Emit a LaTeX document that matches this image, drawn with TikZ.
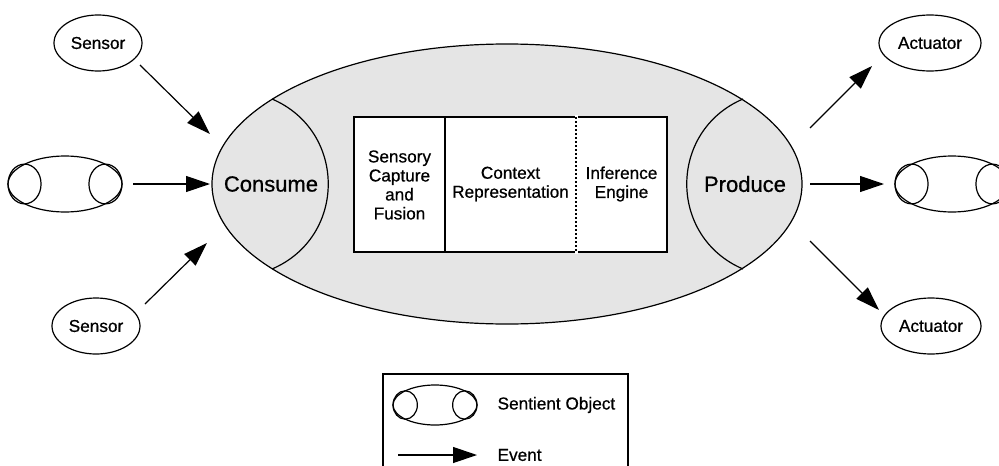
\documentclass[tikz,border=0pt]{standalone}
\usepackage{fontspec}
\setmainfont{Liberation Sans}[FakeBold=0.7]
\usetikzlibrary{arrows.meta,shapes.geometric}
\begin{document}
\begin{tikzpicture}[x=1pt,y=-1pt,
  line width=1.2pt,
  lbl/.style={font=\fontsize{17.2}{19}\selectfont, align=center, inner sep=0pt},
  biglbl/.style={font=\fontsize{22}{24}\selectfont, inner sep=0pt},
  event/.style={-{Triangle[length=24pt,width=16pt]}, line width=1.2pt},
  device/.style={draw, ellipse, fill=white}
]
\useasboundingbox (0,0) rectangle (999,466);
\clip (0,0) rectangle (999,466);

% sentient object: outer ellipse with two end lobes
\newcommand{\sentient}[4]{% centre x, centre y, half width, half height
  \draw[fill=white] (#1,#2) ellipse [x radius=#3, y radius=#4];
  \draw (#1-0.71*#3,#2) ellipse [x radius=0.29*#3, y radius=0.71*#4];
  \draw (#1+0.71*#3,#2) ellipse [x radius=0.29*#3, y radius=0.71*#4];
}

% central sentient object
\draw[fill=black!10] (507,184) ellipse [x radius=295, y radius=140];
\coordinate (c1) at (272,99);
\coordinate (c2) at (272,269);
\coordinate (p1) at (743,99);
\coordinate (p2) at (743,269);
\draw (c1) .. controls (347,131) and (347,237) .. (c2);
\draw (p1) .. controls (668,131) and (668,237) .. (p2);
\node[biglbl] (consume) at (271,184) {Consume};
\node[biglbl] (produce) at (745,184) {Produce};

% processing stages
\draw[fill=white] (354,117) rectangle (667,252);
\draw (445,117) -- (445,252);
\draw[fill=white, draw=white] (576,115.5) rectangle (577.5,253.5);
\draw[line width=1.1pt, dash pattern=on 2.2pt off 1.8pt] (576,117) -- (576,252);
\node[lbl] (fusion) at (399.5,185) {Sensory\\Capture\\and\\Fusion};
\node[lbl] (context) at (510.5,184) {Context\\Representation};
\node[lbl] (engine) at (621.5,184) {Inference\\Engine};

% inputs
\node[device, minimum width=88pt, minimum height=56pt] (s1) at (98,43) {};
\node[lbl] at (s1) {Sensor};
\node[device, minimum width=88pt, minimum height=56pt] (s2) at (96,326) {};
\node[lbl] at (s2) {Sensor};
\sentient{65}{184}{57}{28}
\coordinate (so1) at (133,184);

% outputs
\node[device, minimum width=102pt, minimum height=56pt] (a1) at (930,43) {};
\node[lbl] at (a1) {Actuator};
\node[device, minimum width=100pt, minimum height=56pt] (a2) at (931,326) {};
\node[lbl] at (a2) {Actuator};
\sentient{952}{184}{57}{28}
\coordinate (so2) at (884,184);

% events
\coordinate (i1) at (210,134);
\coordinate (i2) at (210,184);
\coordinate (i3) at (207,243);
\coordinate (s1e) at (140,65);
\coordinate (s2e) at (145,304);
\draw[event] (s1e) -- (i1);
\draw[event] (so1) -- (i2);
\draw[event] (s2e) -- (i3);
\coordinate (o1) at (810,128);
\coordinate (o2) at (810,184);
\coordinate (o3) at (810,241);
\coordinate (a1e) at (872,66);
\coordinate (a2e) at (879,310);
\draw[event] (o1) -- (a1e);
\draw[event] (o2) -- (so2);
\draw[event] (o3) -- (a2e);

% legend
\draw (383,480) -- (383,374) -- (628,374) -- (628,480);
\sentient{435}{405}{42}{20}
\node[lbl, anchor=west] (legso) at (497,405) {Sentient Object};
\coordinate (lg1) at (398,455);
\coordinate (lg2) at (477,455);
\draw[event] (lg1) -- (lg2);
\node[lbl, anchor=west] (legev) at (497,455) {Event};
\end{tikzpicture}
\end{document}
